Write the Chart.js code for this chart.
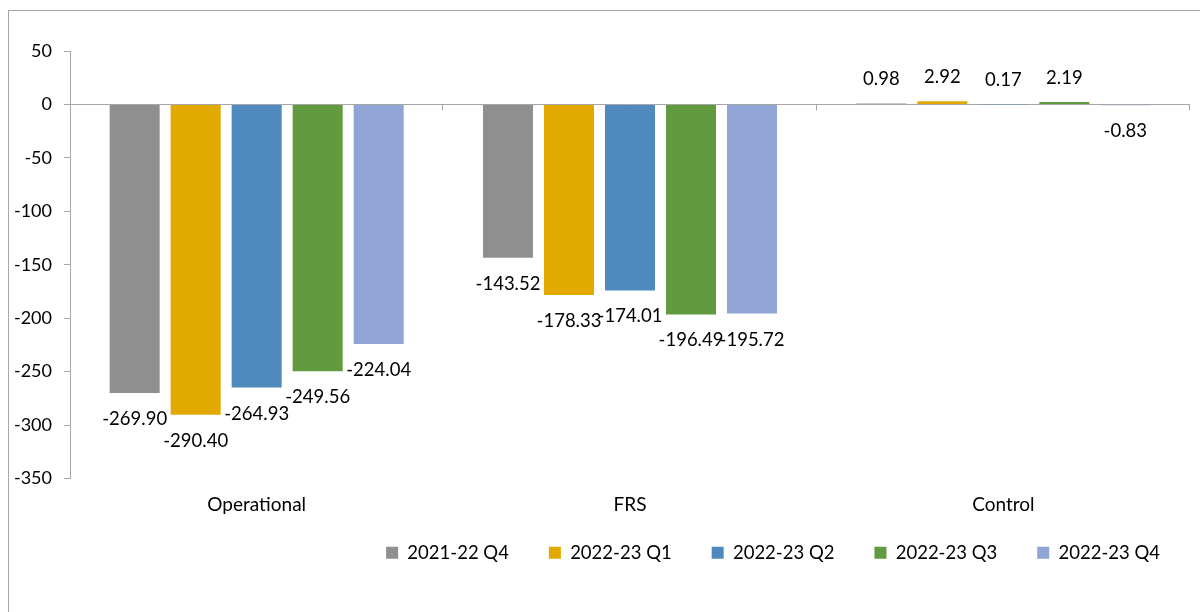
<!doctype html>
<html>
<head>
    <title>Bar Chart</title>
    <script src="https://cdn.jsdelivr.net/npm/chart.js"></script>
    <style>
        html, body { margin: 0; padding: 0; overflow: hidden; background: #fff; }
        .frame { position: absolute; left: 8px; top: 10px; width: 1300px; height: 700px; border: 1px solid #a6a6a6; }
        .mainChartStyle { position: absolute; left: 0; top: 0; width: 1200px; height: 612px; }
    </style>
</head>
<body>
    <div class="frame"></div>
    <div class="mainChartStyle">
        <canvas id="myChart" width="1200" height="612"></canvas>
    </div>
    <script>
        const categories = ['Operational', 'FRS', 'Control'];
        const seriesNames = ['2021-22 Q4', '2022-23 Q1', '2022-23 Q2', '2022-23 Q3', '2022-23 Q4'];
        const q4_2122 = [-269.90, -143.52, 0.98];
        const q1_2223 = [-290.40, -178.33, 2.92];
        const q2_2223 = [-264.93, -174.01, 0.17];
        const q3_2223 = [-249.56, -196.49, 2.19];
        const q4_2223 = [-224.04, -195.72, -0.83];
        const colors = ['#8f8f8f', '#e2a900', '#4f89bd', '#629b3f', '#91a4d6'];

        const FONT = 'Lato, "Open Sans", sans-serif';

        // labels at the outside end of each bar, like excel
        const barLabels = {
            id: 'barLabels',
            afterDatasetsDraw(chart) {
                const c = chart.ctx;
                c.save();
                c.font = '18.5px ' + FONT;
                c.fillStyle = '#000';
                c.textAlign = 'center';
                c.textBaseline = 'middle';
                chart.data.datasets.forEach((ds, i) => {
                    chart.getDatasetMeta(i).data.forEach((bar, j) => {
                        const v = ds.data[j];
                        const y = v < 0 ? bar.y + 26 : bar.y - 24;
                        c.fillText(v.toFixed(2), bar.x, y);
                    });
                });
                c.restore();
            }
        };

        // category tick marks sitting on the zero line
        const zeroTicks = {
            id: 'zeroTicks',
            afterDraw(chart) {
                const x = chart.scales.x, y = chart.scales.y;
                const y0 = y.getPixelForValue(0);
                const step = (x.right - x.left) / categories.length;
                const c = chart.ctx;
                c.save();
                c.strokeStyle = '#a6a6a6';
                c.lineWidth = 1;
                c.beginPath();
                for (let k = 1; k <= categories.length; k++) {
                    const px = Math.round(x.left + step * k) - 0.5;
                    c.moveTo(px, y0);
                    c.lineTo(px, y0 + 6);
                }
                c.stroke();
                c.restore();
            }
        };

        // nudge the legend up a bit, closer to the category labels
        const legendShift = {
            id: 'legendShift',
            afterLayout(chart) {
                const lg = chart.legend;
                lg.top -= 20;
                lg.bottom -= 20;
                lg.left += 10;
                lg.right += 10;
            }
        };

        const seriesData = [q4_2122, q1_2223, q2_2223, q3_2223, q4_2223];

        const ctx = document.getElementById('myChart').getContext('2d');
        const myChart = new Chart(ctx, {
            type: 'bar',
            data: {
                labels: categories,
                datasets: seriesData.map((d, i) => ({
                    label: seriesNames[i],
                    data: d,
                    backgroundColor: colors[i],
                    categoryPercentage: 0.817,
                    barPercentage: 0.82
                }))
            },
            options: {
                responsive: false,
                animation: false,
                layout: {
                    padding: { left: 0, right: 10, top: 51, bottom: 20 }
                },
                plugins: {
                    tooltip: { enabled: false },
                    legend: {
                        position: 'bottom',
                        align: 'end',
                        labels: {
                            boxWidth: 12,
                            boxHeight: 12,
                            padding: 40,
                            color: '#000',
                            font: { family: FONT, size: 18.5 }
                        }
                    }
                },
                scales: {
                    x: {
                        grid: { display: false, drawTicks: false },
                        border: { display: false },
                        ticks: {
                            color: '#000',
                            padding: 15,
                            font: { family: FONT, size: 19 }
                        },
                        afterFit(scale) { scale.height = 45; }
                    },
                    y: {
                        min: -350,
                        max: 50,
                        ticks: {
                            stepSize: 50,
                            padding: 12,
                            color: '#000',
                            font: { family: FONT, size: 18 }
                        },
                        grid: {
                            color: (c) => c.tick && c.tick.value === 0 ? '#a6a6a6' : 'rgba(0,0,0,0)',
                            tickColor: '#a6a6a6',
                            tickLength: 6
                        },
                        border: { display: true, color: '#a6a6a6' },
                        afterFit(scale) { scale.width = 70; }
                    }
                }
            },
            plugins: [barLabels, zeroTicks, legendShift]
        });
    </script>
</body>
</html>
